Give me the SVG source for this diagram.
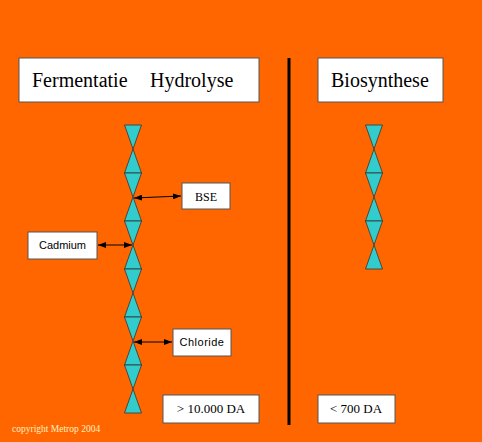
<svg xmlns="http://www.w3.org/2000/svg" width="482" height="442" viewBox="0 0 482 442">
<defs>
<style>
.box{fill:#fff;stroke:#555;stroke-width:1}
.tri{fill:#33CCCC;stroke:#333;stroke-width:0.8}
.t{font-family:"Liberation Serif",serif;fill:#000}
.s{font-family:"Liberation Sans",sans-serif;fill:#000;font-size:11px}
.c{stroke:#000;stroke-width:1;marker-start:url(#a);marker-end:url(#a)}
</style>
<marker id="a" viewBox="0 0 8 6" refX="8" refY="3" markerWidth="8" markerHeight="6" orient="auto-start-reverse" markerUnits="userSpaceOnUse">
<path d="M0,0 L8,3 L0,6 z" fill="#000"/>
</marker>
<g id="tp">
<polygon class="tri" points="-8.5,0 8.5,0 0,24"/>
<polygon class="tri" points="0,24 8.5,48 -8.5,48"/>
</g>
</defs>
<rect width="482" height="442" fill="#FF6600"/>
<g id="title-left">
<rect class="box" x="19" y="58" width="240" height="44"/>
<text class="t" x="32" y="87" font-size="20">Fermentatie</text>
<text class="t" x="150" y="87" font-size="20">Hydrolyse</text>
</g>
<g id="title-right">
<rect class="box" x="318" y="58" width="125" height="44"/>
<text class="t" x="331" y="87" font-size="20">Biosynthese</text>
</g>
<line x1="289" y1="58" x2="289" y2="425" stroke="#000" stroke-width="3"/>
<g id="chain-left">
<use href="#tp" x="133" y="125"/>
<use href="#tp" x="133" y="173"/>
<use href="#tp" x="133" y="221"/>
<use href="#tp" x="133" y="269"/>
<use href="#tp" x="133" y="317"/>
<use href="#tp" x="133" y="365"/>
</g>
<g id="chain-right">
<use href="#tp" x="374" y="125"/>
<use href="#tp" x="374" y="173"/>
<use href="#tp" x="374" y="221"/>
</g>
<g id="bse">
<rect class="box" x="182" y="183" width="48" height="26"/>
<text class="t" x="206" y="201" font-size="12" text-anchor="middle">BSE</text>
</g>
<g id="cadmium">
<rect class="box" x="28" y="232" width="69" height="27"/>
<text class="s" x="62.5" y="249" text-anchor="middle">Cadmium</text>
</g>
<g id="chloride">
<rect class="box" x="173" y="329" width="58" height="27"/>
<text class="s" x="202" y="346" text-anchor="middle" letter-spacing="0.5">Chloride</text>
</g>
<g id="da-left">
<rect class="box" x="163" y="395" width="96" height="28"/>
<text class="t" x="211" y="413" font-size="13" text-anchor="middle">&gt; 10.000 DA</text>
</g>
<g id="da-right">
<rect class="box" x="318" y="395" width="77" height="28"/>
<text class="t" x="356" y="413" font-size="13" text-anchor="middle">&lt; 700 DA</text>
</g>
<g id="connectors">
<line class="c" x1="134" y1="198" x2="181" y2="196"/>
<line class="c" x1="98" y1="245" x2="132" y2="245"/>
<line class="c" x1="134" y1="342" x2="172" y2="342"/>
</g>
<text x="12" y="432" font-family="Liberation Serif,serif" font-size="9.5" fill="#FFF0C0">copyright Metrop 2004</text>
</svg>
